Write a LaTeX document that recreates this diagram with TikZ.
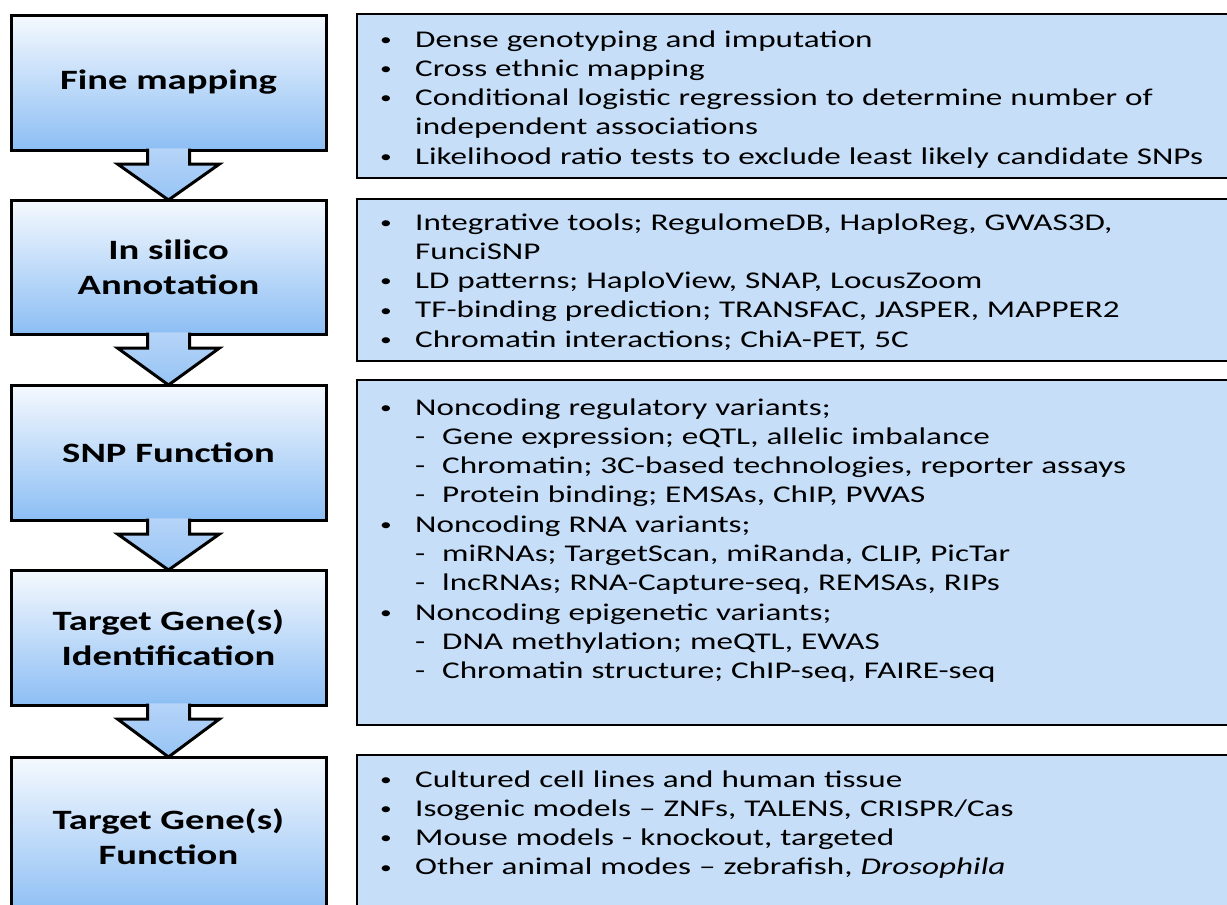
\documentclass[tikz,border=0pt]{standalone}
\usepackage{fontspec}
\setmainfont{Carlito}[FakeStretch=1.38]
\usetikzlibrary{calc}
\definecolor{lgtop}{RGB}{245,249,254}
\definecolor{lgbot}{RGB}{140,190,244}
\definecolor{artop}{RGB}{182,212,248}
\definecolor{arbot}{RGB}{150,196,245}
\definecolor{rfill}{RGB}{198,222,248}
\newcommand\bul{\makebox[37pt][l]{\hspace{2pt}\raisebox{1.8pt}{\fontsize{17}{17}\selectfont •}}}
\newcommand\cont{\hspace*{37pt}}
\newcommand\sub{\hspace*{37pt}\makebox[27pt][l]{-}}
\newcommand\blockarrow[2]{%
  \shade[top color=artop, bottom color=arbot]
    ($(#1.south)+(-21,-1.6)$) -- ($(#1.south)+(-21,14)$) -- ($(#1.south)+(-51,14)$)
    -- (#2.north) -- ($(#1.south)+(51,14)$) -- ($(#1.south)+(21,14)$)
    -- ($(#1.south)+(21,-1.6)$) -- cycle;
  \draw[line width=3pt, line join=miter]
    ($(#1.south)+(-21,-1.5)$) -- ($(#1.south)+(-21,14)$) -- ($(#1.south)+(-51,14)$)
    -- (#2.north) -- ($(#1.south)+(51,14)$) -- ($(#1.south)+(21,14)$)
    -- ($(#1.south)+(21,-1.5)$);}
\begin{document}
\begin{tikzpicture}[x=1pt,y=-1pt,
  lbox/.style={draw=black, line width=3pt, top color=lgtop, bottom color=lgbot,
    minimum width=315pt, outer sep=0pt, inner sep=0pt, align=center,
    font=\fontsize{28}{35}\selectfont\bfseries},
  rbox/.style={draw=black, line width=2.5pt, fill=rfill, outer sep=0pt,
    inner sep=0pt, minimum width=888pt},
  rtext/.style={anchor=base west, inner sep=0pt, text width=840pt, align=left,
    font=\fontsize{24}{29.3}\selectfont}]
\useasboundingbox (0,0) rectangle (1227,905);
\clip (0,0) rectangle (1227,905);
\fill[white] (0,0) rectangle (1227,905);
% right boxes
\node[rbox, minimum height=164pt] (r1) at (801,96) {};
\node[rbox, minimum height=162pt] (r2) at (801,280) {};
\node[rbox, minimum height=345pt] (r3) at (801,552.5) {};
\node[rbox, minimum height=170pt] (r4) at (801,840) {};
% right texts
\node[rtext] (t1) at (378,47) {\bul Dense genotyping and imputation\\
\bul Cross ethnic mapping\\
\bul Conditional logistic regression to determine number of\\
\cont independent associations\\
\bul Likelihood ratio tests to exclude least likely candidate SNPs};
\node[rtext] (t2) at (378,230) {\bul Integrative tools; RegulomeDB, HaploReg, GWAS3D,\\
\cont FunciSNP\\
\bul LD patterns; HaploView, SNAP, LocusZoom\\
\bul TF-binding prediction; TRANSFAC, JASPER, MAPPER2\\
\bul Chromatin interactions; ChiA-PET, 5C};
\node[rtext] (t3) at (378,415) {\bul Noncoding regulatory variants;\\
\sub Gene expression; eQTL, allelic imbalance\\
\sub Chromatin; 3C-based technologies, reporter assays\\
\sub Protein binding; EMSAs, ChIP, PWAS\\
\bul Noncoding RNA variants;\\
\sub miRNAs; TargetScan, miRanda, CLIP, PicTar\\
\sub lncRNAs; RNA-Capture-seq, REMSAs, RIPs\\
\bul Noncoding epigenetic variants;\\
\sub DNA methylation; meQTL, EWAS\\
\sub Chromatin structure; ChIP-seq, FAIRE-seq};
\node[rtext] (t4) at (378,787) {\bul Cultured cell lines and human tissue\\
\bul Isogenic models -- ZNFs, TALENS, CRISPR/Cas\\
\bul Mouse models - knockout, targeted\\
\bul Other animal modes -- zebrafish, \textit{Drosophila}};
% left boxes
\node[lbox, minimum height=135pt] (b1) at (168.5,82.5) {Fine mapping};
\node[lbox, minimum height=134pt] (b2) at (168.5,267) {In silico\\Annotation};
\node[lbox, minimum height=135pt] (b3) at (168.5,452.5) {SNP Function};
\node[lbox, minimum height=135pt] (b4) at (168.5,637.5) {Target Gene(s)\\Identification};
\node[lbox, minimum height=159pt] (b5) at (168.5,836.5) {Target Gene(s)\\Function};
% arrows
\blockarrow{b1}{b2}
\blockarrow{b2}{b3}
\blockarrow{b3}{b4}
\blockarrow{b4}{b5}
\end{tikzpicture}
\end{document}
